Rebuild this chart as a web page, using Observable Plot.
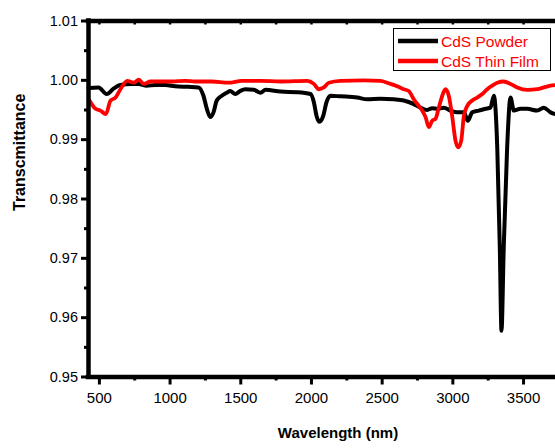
<!DOCTYPE html>
<html>
<head>
<meta charset="utf-8">
<script src="https://cdn.jsdelivr.net/npm/d3@7"></script>
<script src="https://cdn.jsdelivr.net/npm/@observablehq/plot@0.6"></script>
<style>
  html, body { margin: 0; padding: 0; background: #fff; }
  #wrap { position: relative; width: 555px; height: 448px; overflow: hidden; }
  #legend { position: absolute; left: 393px; top: 28px; width: 158px; height: 43px;
            border: 1px solid #000; background: #fff; box-sizing: border-box; }
</style>
</head>
<body>
<div id="wrap"><div id="chart"></div><div id="legend"></div></div>
<script>
const seriesNames = ["CdS Powder", "CdS Thin Film"];
const seriesColors = ["#000000", "#ff0000"];

const powderWavelength = [423,494,552,600,647,729,777,835,895,966,1036,1130,1201,1236,1260,1284,1307,1330,1366,1401,1425,1461,1496,1531,1592,1640,1675,1781,1899,1993,2017,2036,2057,2083,2106,2135,2205,2324,2394,2488,2582,2653,2724,2771,2819,2854,2889,2936,2983,3031,3078,3106,3137,3184,3231,3266,3290,3314,3332,3344,3360,3384,3408,3431,3478,3526,3597,3643,3691,3726];
const powderTrans = [0.9987,0.9988,0.9977,0.9986,0.9992,0.9994,0.9994,0.9991,0.9992,0.9992,0.9990,0.9989,0.9988,0.9974,0.9952,0.9938,0.9946,0.9966,0.9974,0.9979,0.9982,0.9977,0.9982,0.9985,0.9984,0.9979,0.9984,0.9981,0.9980,0.9977,0.9963,0.9940,0.9930,0.9940,0.9963,0.9974,0.9973,0.9971,0.9968,0.9969,0.9968,0.9966,0.9960,0.9954,0.9950,0.9953,0.9952,0.9954,0.9949,0.9946,0.9946,0.9932,0.9946,0.9949,0.9952,0.9954,0.9974,0.9887,0.9719,0.9578,0.9719,0.9887,0.9971,0.9949,0.9952,0.9952,0.9949,0.9954,0.9946,0.9943];

const filmWavelength = [430,473,508,545,579,614,649,697,743,779,814,862,895,1012,1107,1178,1295,1413,1507,1640,1781,1970,2017,2052,2087,2123,2205,2370,2488,2559,2606,2653,2688,2724,2759,2783,2807,2830,2854,2877,2901,2925,2948,2971,2995,3019,3038,3059,3078,3102,3137,3172,3208,3243,3278,3314,3360,3408,3455,3526,3597,3643,3691,3726];
const filmTrans = [0.9966,0.9952,0.9949,0.9943,0.9966,0.9971,0.9985,0.9999,0.9996,1.0001,0.9994,0.9998,0.9998,0.9998,0.9999,0.9998,0.9998,0.9996,0.9999,0.9999,0.9998,0.9999,0.9994,0.9985,0.9988,0.9996,0.9999,1.0000,0.9999,0.9994,0.9990,0.9985,0.9982,0.9968,0.9957,0.9949,0.9938,0.9921,0.9932,0.9935,0.9954,0.9974,0.9985,0.9974,0.9940,0.9898,0.9887,0.9898,0.9940,0.9957,0.9966,0.9971,0.9977,0.9985,0.9991,0.9996,0.9998,0.9994,0.9988,0.9984,0.9985,0.9988,0.9991,0.9992];

const xTicks = [500, 1000, 1500, 2000, 2500, 3000, 3500];
const xMinorTicks = [750, 1250, 1750, 2250, 2750, 3250];
const yTicks = [0.95, 0.96, 0.97, 0.98, 0.99, 1.00, 1.01];
const yMinorTicks = [0.955, 0.965, 0.975, 0.985, 0.995, 1.005];
const xDomain = [423, 3726];
const yDomain = [0.95, 1.01];
const xTitle = "Wavelength (nm)";
const yTitle = "Transcmittance";

const powder = powderWavelength.map((w, i) => ({w, t: powderTrans[i]}));
const film = filmWavelength.map((w, i) => ({w, t: filmTrans[i]}));
const blank = () => "";
const font = "'Liberation Sans', Arial, Helvetica, sans-serif";

const chart = Plot.plot({
  width: 555,
  height: 448,
  marginLeft: 88,
  marginRight: 0,
  marginTop: 20.5,
  marginBottom: 71.5,
  style: {fontFamily: font, background: "#fff", color: "#000"},
  x: {domain: xDomain, label: null},
  y: {domain: yDomain, label: null},
  marks: [
    Plot.line(powder, {x: "w", y: "t", stroke: seriesColors[0], strokeWidth: 4, curve: "monotone-x", strokeLinejoin: "round"}),
    Plot.line(film, {x: "w", y: "t", stroke: seriesColors[1], strokeWidth: 3.8, curve: "monotone-x", strokeLinejoin: "round"}),
    Plot.axisX(xTicks, {anchor: "bottom", tickSize: 8, tickPadding: 7, strokeWidth: 3, fontSize: 15, tickFormat: d => String(d), label: null}),
    Plot.axisX(xMinorTicks, {anchor: "bottom", tickSize: 4, strokeWidth: 3, tickFormat: blank, label: null}),
    Plot.axisX(xTicks.concat(xMinorTicks), {anchor: "top", tickSize: -3, strokeWidth: 2.5, tickFormat: blank, label: null}),
    Plot.axisY(yTicks, {anchor: "left", tickSize: 7, tickPadding: 3.5, strokeWidth: 3, fontSize: 14.5, tickFormat: d3.format(".2f"), label: null}),
    Plot.axisY(yMinorTicks, {anchor: "left", tickSize: 4, strokeWidth: 3, tickFormat: blank, label: null}),
    Plot.ruleY([yDomain[0]], {strokeWidth: 4.5, strokeLinecap: "square"}),
    Plot.ruleY([yDomain[1]], {strokeWidth: 4.5, strokeLinecap: "square"}),
    Plot.ruleX([xDomain[0]], {strokeWidth: 4.5, strokeLinecap: "square"}),
    Plot.text([yTitle], {frameAnchor: "left", rotate: -90, dx: -69, dy: 12, fontSize: 16, fontWeight: "bold", fill: "#000"}),
    Plot.text([xTitle], {frameAnchor: "bottom", dx: 16, dy: 61, fontSize: 15, fontWeight: "bold", fill: "#000"})
  ]
});
document.getElementById("chart").appendChild(chart);

// legend built from the series arrays
const ns = "http://www.w3.org/2000/svg";
const lsvg = document.createElementNS(ns, "svg");
lsvg.setAttribute("width", 156);
lsvg.setAttribute("height", 41);
seriesNames.forEach((name, i) => {
  const y = 12 + i * 20;
  const ln = document.createElementNS(ns, "line");
  ln.setAttribute("x1", 4); ln.setAttribute("x2", 44);
  ln.setAttribute("y1", y); ln.setAttribute("y2", y);
  ln.setAttribute("stroke", seriesColors[i]);
  ln.setAttribute("stroke-width", 4.5);
  lsvg.appendChild(ln);
  const tx = document.createElementNS(ns, "text");
  tx.setAttribute("x", 47); tx.setAttribute("y", y + 5.5);
  tx.setAttribute("fill", "#ff0000");
  tx.setAttribute("font-size", 15.5);
  tx.setAttribute("font-family", font);
  tx.textContent = name;
  lsvg.appendChild(tx);
});
document.getElementById("legend").appendChild(lsvg);
</script>
</body>
</html>
